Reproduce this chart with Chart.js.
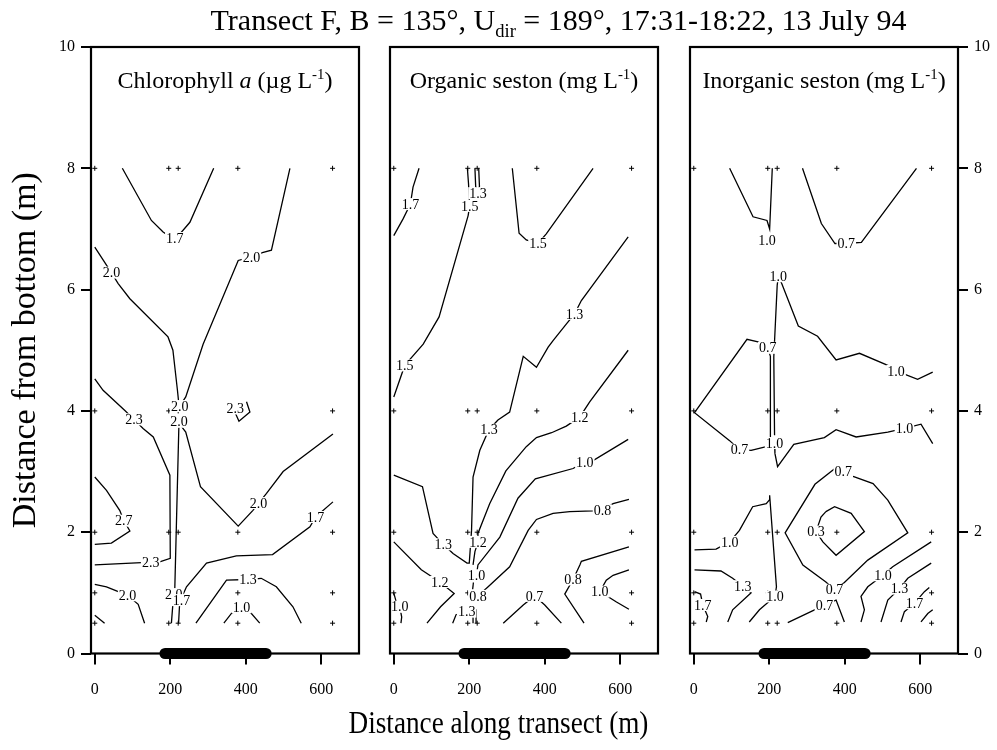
<!DOCTYPE html>
<html><head><meta charset="utf-8">
<script src="https://cdn.jsdelivr.net/npm/chart.js@4.4.1/dist/chart.umd.min.js"></script>
<style>
html,body{margin:0;padding:0;background:#fff;}
#wrap{position:relative;width:997px;height:750px;overflow:hidden;font-family:"Liberation Serif","Times New Roman",serif;color:#000;background:#fff;}
canvas{position:absolute;left:0;top:0;}
.t{position:absolute;white-space:nowrap;line-height:1;text-align:center;}
sup,sub{font-size:0.62em;line-height:0;}
</style></head><body>
<div id="wrap">
<canvas id="c1" width="997" height="750"></canvas>
<canvas id="c2" width="997" height="750"></canvas>
<canvas id="c3" width="997" height="750"></canvas>
<div class="t" style="left:60px;width:997px;top:5px;font-size:30px;">Transect F, B = 135°, U<sub>dir</sub> = 189°, 17:31-18:22, 13 July 94</div>
<div class="t" style="left:91px;width:268px;top:68px;font-size:24px;">Chlorophyll <i>a</i> (µg L<sup>-1</sup>)</div>
<div class="t" style="left:390px;width:268px;top:68px;font-size:24px;">Organic seston (mg L<sup>-1</sup>)</div>
<div class="t" style="left:690px;width:268px;top:68px;font-size:24px;">Inorganic seston (mg L<sup>-1</sup>)</div>
<div class="t" style="left:0;width:997px;top:706px;font-size:32px;transform:scaleX(0.85);">Distance along transect (m)</div>
</div>
<script>
// ---- axes / sampling ----
const xTicks = [0, 200, 400, 600];
const yTicks = [0, 2, 4, 6, 8, 10];
const stations = [0, 196, 221, 379, 630];
const depths = [8, 4, 2, 1, 0.5];
const transitBar = [186, 454];

// ---- Chlorophyll a contours [x (m), height (m)] ----
const chlLines = [
  [[73,8],[150,7.14],[181,6.95],[212,6.82],[252,7.11],[315,8]],
  [[517,8],[468,6.65],[444,6.61],[415,6.54],[380,6.48],[287,5.1],[241,4.23],[225,4.08]],
  [[0,6.70],[44,6.28],[62,6.10],[93,5.85],[194,5.22],[207,5.0],[219,4.34],[223,4.1]],
  [[223,3.8],[241,3.65],[280,2.75],[380,2.10],[419,2.36],[434,2.48],[455,2.64],[499,3.0],[631,3.62]],
  [[223,3.8],[212,1.07],[209,0.98],[203,0.5]],
  [[222,0.5],[225,0.85],[243,1.10],[296,1.49],[375,1.61],[471,1.63],[570,2.09],[585,2.25],[631,2.50]],
  [[0,4.53],[22,4.34],[79,4.01],[104,3.86],[128,3.71],[155,3.57],[199,2.94],[200,1.57],[172,1.51],[148,1.50],[124,1.50],[0,1.46]],
  [[372,3.97],[382,3.83],[411,3.98],[402,4.15]],
  [[0,2.91],[31,2.69],[66,2.36],[77,2.19],[93,2.02],[44,1.82],[0,1.80]],
  [[0,1.14],[31,1.10],[87,0.96],[115,0.81],[132,0.50]],
  [[0,0.63],[26,0.5]],
  [[268,0.5],[349,1.21],[406,1.22],[441,1.24],[481,1.10],[525,0.77],[547,0.5]],
  [[342,0.5],[362,0.66],[389,0.76],[415,0.66],[437,0.5]]
];
const chlLabels = [
  ['1.7',212,6.85],['2.0',415,6.54],['2.0',44,6.28],['2.0',225,4.08],['2.0',223,3.82],
  ['2.3',104,3.86],['2.3',372,4.04],['2.0',434,2.48],['2.7',77,2.19],['1.7',585,2.25],
  ['2.3',148,1.50],['2.0',87,0.96],['2.0',209,0.98],['1.7',230,0.88],['1.3',406,1.22],['1.0',389,0.76]
];

// ---- Organic seston contours ----
const orgLines = [
  [[67,8],[51,7.69],[44,7.41],[25,7.17],[0,6.89]],
  [[195,8],[198,7.75],[201,7.38],[197,7.22],[120,5.55],[78,5.10],[29,4.75],[0,4.23]],
  [[215,8],[217,7.7],[222,7.62],[227,7.7],[225,8]],
  [[314,8],[332,6.93],[351,6.82],[382,6.76],[404,6.92],[528,8]],
  [[621,6.87],[497,5.82],[479,5.60],[458,5.44],[422,5.16],[409,5.05],[378,4.72],[343,4.90],[307,3.98],[276,3.85],[252,3.69],[228,3.35],[210,2.91],[206,2.03],[200,1.49],[194,1.49],[157,1.65],[131,1.80],[104,1.98],[76,2.75],[0,2.94]],
  [[621,5.0],[519,4.15],[493,3.90],[457,3.75],[418,3.64],[378,3.56],[351,3.41],[297,3.01],[254,2.47],[223,1.98],[223,1.84],[215,1.68],[210,1.46]],
  [[0,1.84],[73,1.38],[122,1.18],[160,0.99],[124,0.77],[88,0.5]],
  [[621,3.53],[528,3.18],[506,3.16],[475,3.05],[375,2.88],[329,2.56],[281,1.92],[223,1.46],[219,1.29]],
  [[211,1.17],[209,1.06]],
  [[623,2.54],[581,2.47],[553,2.36],[528,2.35],[466,2.34],[422,2.31],[378,2.21],[356,2.03],[307,1.43],[250,1.10],[223,0.95]],
  [[0,1.0],[6,0.86],[16,0.77],[21,0.6],[19,0.5]],
  [[156,0.5],[165,0.64],[193,0.69]],
  [[210,0.5],[210,0.72],[218,0.72],[218,0.5]],
  [[290,0.5],[343,0.80],[373,0.95],[400,0.80],[444,0.5]],
  [[623,1.76],[497,1.52],[493,1.46],[475,1.22],[453,0.98],[504,0.5]],
  [[623,1.38],[581,1.29],[563,1.21],[546,1.02],[590,0.85],[623,0.73]]
];
const orgLabels = [
  ['1.7',44,7.41],['1.5',201,7.38],['1.3',223,7.59],['1.5',382,6.76],['1.3',479,5.60],
  ['1.5',29,4.75],['1.3',252,3.69],['1.2',493,3.90],['1.0',506,3.16],['0.8',553,2.36],
  ['1.3',131,1.80],['1.2',223,1.84],['1.0',219,1.29],['1.2',122,1.18],['0.8',223,0.95],
  ['1.3',193,0.69],['0.7',373,0.95],['0.8',475,1.22],['1.0',546,1.02],['1.0',16,0.77]
];

// ---- Inorganic seston contours ----
const inoLines = [
  [[95,8],[157,7.20],[194,7.14],[201,7.0],[208,8]],
  [[288,8],[338,7.09],[374,6.76],[404,6.76],[444,6.78],[590,8]],
  [[214,3.6],[212,4.89],[221,6.07],[224,6.22],[233,6.10],[277,5.40],[328,5.23],[377,4.84],[439,4.95],[514,4.75],[536,4.66],[593,4.52],[633,4.64]],
  [[203,3.55],[203,4.9],[196,5.04],[170,5.14],[141,5.18],[2,3.97],[95,3.51],[121,3.36],[152,3.35],[192,3.41],[214,3.47]],
  [[214,3.47],[215,3.30],[222,3.08],[265,3.45],[346,3.56],[377,3.69],[430,3.57],[514,3.65],[558,3.71],[602,3.78],[633,3.46]],
  [[396,3.0],[374,3.05],[321,2.79],[242,1.99],[289,1.46],[350,1.18],[373,1.05],[399,1.17],[461,1.54],[567,1.99],[514,2.53],[475,2.80],[422,2.92],[396,3.0]],
  [[350,2.34],[373,2.42],[417,2.31],[452,2.01],[377,1.62],[342,1.84],[324,2.01],[337,2.25],[350,2.34]],
  [[2,1.71],[59,1.72],[95,1.84],[121,2.03],[156,2.42],[192,2.47],[200,2.53],[201,2.61],[219,1.10],[215,0.94],[174,0.72],[147,0.52]],
  [[2,1.38],[72,1.36],[103,1.24],[130,1.11],[152,1.0],[103,0.72],[90,0.52]],
  [[2,1.02],[18,0.98],[24,0.80],[37,0.61],[33,0.52]],
  [[249,0.51],[320,0.72],[346,0.80],[377,0.88],[399,0.52]],
  [[443,0.52],[452,0.72],[443,0.94],[461,1.10],[501,1.29],[527,1.43],[629,1.84]],
  [[496,0.52],[514,0.88],[545,1.07],[567,1.24],[629,1.49]],
  [[549,0.52],[558,0.69],[585,0.83],[611,1.02],[624,1.09]],
  [[602,0.52],[620,0.66],[633,0.72]]
];
const inoLabels = [
  ['1.0',194,6.81],['0.7',404,6.76],['1.0',224,6.22],['0.7',196,5.04],['1.0',536,4.66],
  ['0.7',121,3.36],['1.0',214,3.47],['1.0',558,3.71],['0.7',396,3.0],['0.3',324,2.01],
  ['1.0',95,1.84],['1.3',130,1.11],['1.7',24,0.80],['1.0',215,0.94],['0.7',373,1.05],
  ['0.7',346,0.80],['1.0',501,1.29],['1.3',545,1.07],['1.7',585,0.83]
];

// ---- rendering ----
const FONT = '"Liberation Serif", "Times New Roman", serif';

const contourLabels = {
  id: 'contourLabels',
  afterDatasetsDraw(chart, args, opts) {
    const ctx = chart.ctx, xs = chart.scales.x, ys = chart.scales.y;
    ctx.save();
    ctx.font = '14px ' + FONT;
    ctx.textAlign = 'center';
    ctx.textBaseline = 'middle';
    for (const [t, x, y] of opts.items || []) {
      const px = xs.getPixelForValue(x), py = ys.getPixelForValue(y);
      const w = ctx.measureText(t).width;
      ctx.fillStyle = '#fff';
      ctx.fillRect(px - w / 2 - 1, py - 6, w + 2, 12);
      ctx.fillStyle = '#000';
      ctx.fillText(t, px, py + 1);
    }
    ctx.restore();
  }
};
const frame = {
  id: 'frame',
  afterDraw(chart) {
    const {ctx, chartArea: a} = chart;
    ctx.save();
    ctx.strokeStyle = '#000';
    ctx.lineWidth = 2.2;
    ctx.strokeRect(a.left, a.top, a.right - a.left, a.bottom - a.top);
    ctx.restore();
  }
};

function makePanel(id, lines, labels, side, pad) {
  const datasets = lines.map(l => ({
    data: l.map(([x, y]) => ({x, y})),
    showLine: true, borderColor: '#000', borderWidth: 1.3,
    pointRadius: 0, fill: false, tension: 0
  }));
  const st = [];
  for (const s of stations) for (const d of depths) st.push({x: s, y: d});
  datasets.push({data: st, showLine: false, pointStyle: 'cross', pointRadius: 2.5,
    borderColor: '#000', borderWidth: 1, backgroundColor: '#000'});
  datasets.push({data: transitBar.map(v => ({x: v, y: 0})), showLine: true,
    borderColor: '#000', borderWidth: 11, borderCapStyle: 'round', pointRadius: 0, clip: false});

  const yScale = {
    type: 'linear', min: 0, max: 10,
    display: side !== 'none',
    position: side === 'right' ? 'right' : 'left',
    afterBuildTicks: s => { s.ticks = yTicks.map(v => ({value: v})); },
    afterFit: s => { s.width = side === 'left' ? 91 : (side === 'right' ? 39 : 0); },
    grid: {drawOnChartArea: false, drawTicks: true, tickLength: 10, color: '#000', lineWidth: 2},
    border: {display: false},
    ticks: {color: '#000', font: {family: FONT, size: 16}, padding: 6},
    title: {display: side === 'left', text: 'Distance from bottom (m)', color: '#000',
      font: {family: FONT, size: 34}, padding: {top: 6, bottom: 0}}
  };
  return new Chart(document.getElementById(id), {
    type: 'scatter',
    data: {datasets},
    plugins: [contourLabels, frame],
    options: {
      responsive: false, animation: false, events: [],
      layout: {padding: pad},
      plugins: {legend: {display: false}, tooltip: {enabled: false},
        contourLabels: {items: labels}},
      scales: {
        x: {
          type: 'linear', min: -10, max: 700,
          afterBuildTicks: s => { s.ticks = xTicks.map(v => ({value: v})); },
          afterFit: s => { s.height = 60; },
          grid: {drawOnChartArea: false, drawTicks: true, tickLength: 11, color: '#000', lineWidth: 2},
          border: {display: false},
          ticks: {color: '#000', font: {family: FONT, size: 16}, padding: 16, maxRotation: 0}
        },
        y: yScale
      }
    }
  });
}

makePanel('c1', chlLines, chlLabels, 'left', {left: 0, right: 638, top: 47, bottom: 36.5});
makePanel('c2', orgLines, orgLabels, 'none', {left: 390, right: 339, top: 47, bottom: 36.5});
makePanel('c3', inoLines, inoLabels, 'right', {left: 690, right: 0, top: 47, bottom: 36.5});
</script>
</body></html>
